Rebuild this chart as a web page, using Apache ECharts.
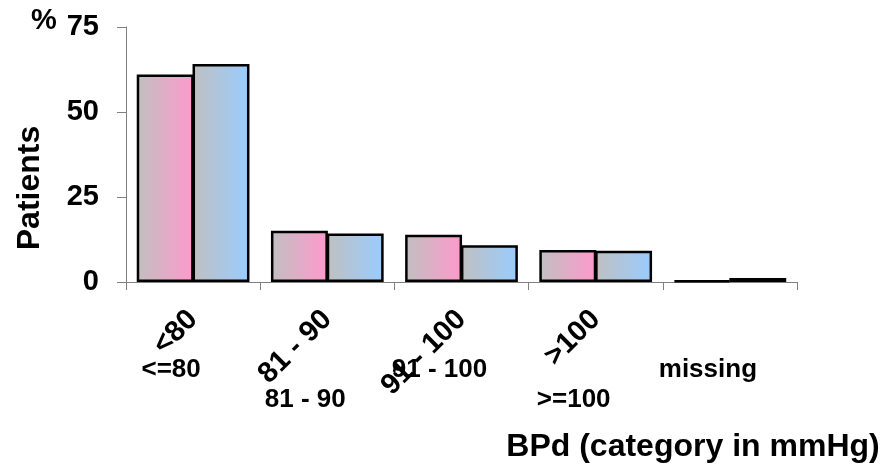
<!DOCTYPE html>
<html>
<head>
<meta charset="utf-8">
<script src="https://cdn.jsdelivr.net/npm/echarts@6/dist/echarts.min.js"></script>
<style>
html,body{margin:0;padding:0;background:#fff;}
#chart{width:892px;height:467px;}
</style>
</head>
<body>
<div id="chart"></div>
<script>
// ---- data ----
var rotatedLabels = ['<80', '81 - 90', '91 - 100', '>100', ''];
var flatLabels = ['<=80', '81 - 90', '91 - 100', '>=100', 'missing'];
var seriesPink = [61.0, 15.1, 13.9, 9.4, 0.5];
var seriesBlue = [64.1, 14.3, 10.8, 9.2, 1.2];
var yTicks = [0, 25, 50, 75];
var yName = 'Patients';
var yUnit = '%';
var xName = 'BPd (category in mmHg)';

var FONT = 'Liberation Sans, Arial, sans-serif';
var chart = echarts.init(document.getElementById('chart'), null, {renderer: 'canvas'});

function grad(c1, c2) {
  return new echarts.graphic.LinearGradient(0, 0, 1, 0, [
    {offset: 0, color: c1}, {offset: 1, color: c2}
  ]);
}

var option = {
  animation: false,
  backgroundColor: '#ffffff',
  grid: {left: 126, right: 95, top: 27, bottom: 185, containLabel: false},
  xAxis: [
    {
      type: 'category',
      data: rotatedLabels,
      position: 'bottom',
      axisLine: {show: true, lineStyle: {color: '#808080', width: 1}},
      axisTick: {show: true, length: 8, lineStyle: {color: '#808080'}},
      axisLabel: {
        rotate: 45, interval: 0, margin: 33,
        color: '#000', fontFamily: FONT, fontWeight: 'bold', fontSize: 29
      },
      splitLine: {show: false}
    },
    {
      type: 'category',
      data: flatLabels,
      position: 'bottom',
      axisLine: {show: false},
      axisTick: {show: false},
      axisLabel: {
        interval: 0, margin: 73,
        color: '#000', fontFamily: FONT, fontWeight: 'bold', fontSize: 26,
        lineHeight: 30,
        padding: [0, 44, 0, 0],
        formatter: function (v, i) { return (i === 1 || i === 3) ? '\n' + v : v; }
      },
      splitLine: {show: false}
    }
  ],
  yAxis: {
    type: 'value',
    min: yTicks[0], max: yTicks[yTicks.length - 1], interval: 25,
    axisLine: {show: true, lineStyle: {color: '#808080', width: 1}},
    axisTick: {show: true, length: 9, lineStyle: {color: '#808080'}},
    axisLabel: {margin: 27, color: '#000', fontFamily: FONT, fontWeight: 'bold', fontSize: 29},
    splitLine: {show: false}
  },
  series: [
    {
      type: 'bar', xAxisIndex: 0, data: seriesPink,
      barGap: '-2%', barCategoryGap: '16%',
      itemStyle: {color: grad('#c0c0c0', '#ff99cc'), borderColor: '#000', borderWidth: 2.5}
    },
    {
      type: 'bar', xAxisIndex: 0, data: seriesBlue,
      barGap: '-2%', barCategoryGap: '16%',
      itemStyle: {color: grad('#c0c0c0', '#99ccff'), borderColor: '#000', borderWidth: 2.5}
    }
  ],
  graphic: [
    {
      type: 'text', x: 30, y: 188, rotation: Math.PI / 2,
      style: {text: yName, fill: '#000', font: 'bold 32px ' + FONT, textAlign: 'center', textVerticalAlign: 'middle'}
    },
    {
      type: 'text', x: 44, y: 21,
      style: {text: yUnit, fill: '#000', font: 'bold 29px ' + FONT, textAlign: 'center', textVerticalAlign: 'middle'}
    },
    {
      type: 'text', x: 693, y: 447,
      style: {text: xName, fill: '#000', font: 'bold 32px ' + FONT, textAlign: 'center', textVerticalAlign: 'middle'}
    }
  ]
};
chart.setOption(option);
</script>
</body>
</html>
